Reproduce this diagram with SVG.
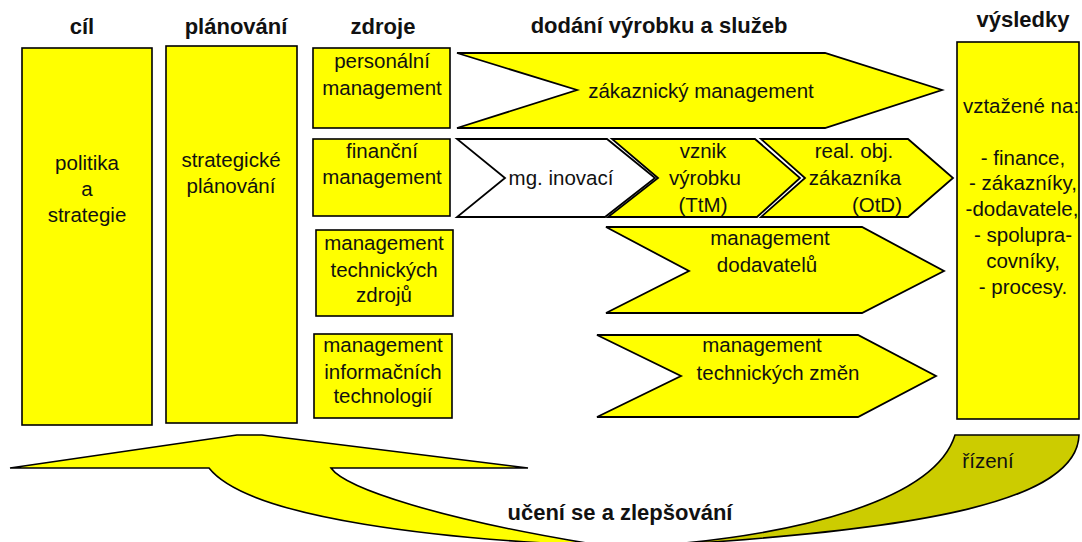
<svg xmlns="http://www.w3.org/2000/svg" width="1082" height="542" viewBox="0 0 1082 542">
<style>
.box{fill:#FFFF00;stroke:#000;stroke-width:1.6}
.chev{fill:#FFFF00;stroke:#000;stroke-width:1.8;stroke-linejoin:miter}
.white{fill:#FFFFFF}
.t{font-family:"Liberation Sans",Arial,sans-serif;font-size:20.5px;fill:#111;text-anchor:middle}
.h{font-family:"Liberation Sans",Arial,sans-serif;font-size:22px;font-weight:bold;fill:#111;text-anchor:middle}
</style>
<rect width="1082" height="542" fill="#FFFFFF"/>

<g id="headers">
<text class="h" x="82" y="34">cíl</text>
<text class="h" x="236" y="34">plánování</text>
<text class="h" x="383" y="34">zdroje</text>
<text class="h" x="659" y="33">dodání výrobku a služeb</text>
<text class="h" x="1023" y="27">výsledky</text>
</g>

<g id="cil">
<rect class="box" x="22" y="48" width="130" height="377"/>
<text class="t" x="87" y="170">politika</text>
<text class="t" x="87" y="196">a</text>
<text class="t" x="87" y="222">strategie</text>
</g>

<g id="planovani">
<rect class="box" x="166" y="46" width="131" height="377"/>
<text class="t" x="231" y="167">strategické</text>
<text class="t" x="231" y="193">plánování</text>
</g>

<g id="personalni">
<rect class="box" x="313" y="48" width="137" height="80"/>
<text class="t" x="382" y="68">personální</text>
<text class="t" x="382" y="95">management</text>
</g>

<g id="financni">
<rect class="box" x="313" y="139" width="137" height="77"/>
<text class="t" x="382" y="158">finanční</text>
<text class="t" x="382" y="184">management</text>
</g>

<g id="technicke-zdroje">
<rect class="box" x="316" y="230" width="137" height="86"/>
<text class="t" x="384" y="250">management</text>
<text class="t" x="384" y="277">technických</text>
<text class="t" x="384" y="302">zdrojů</text>
</g>

<g id="informacni-technologie">
<rect class="box" x="314" y="334" width="138" height="84"/>
<text class="t" x="383" y="352">management</text>
<text class="t" x="383" y="379">informačních</text>
<text class="t" x="383" y="403">technologií</text>
</g>

<g id="zakaznicky">
<polygon class="chev" points="457,53 825,53 942,90 825,128 457,128 577,90"/>
<text class="t" x="701" y="98">zákaznický management</text>
</g>

<g id="inovace">
<polygon class="chev white" points="457,139 607,139 655,178 605,217 457,217 505,178"/>
<text class="t" x="561" y="185">mg. inovací</text>
</g>

<g id="ttm">
<polygon class="chev" points="612,139 755,139 800,178 757,217 608,217 658,178"/>
<text class="t" x="703" y="158">vznik</text>
<text class="t" x="705" y="185">výrobku</text>
<text class="t" x="703" y="212">(TtM)</text>
</g>

<g id="otd">
<polygon class="chev" points="761,139 908,139 953,178 908,217 761,217 805,178"/>
<text class="t" x="854" y="158">real. obj.</text>
<text class="t" x="855" y="185">zákazníka</text>
<text class="t" x="902" y="212" style="text-anchor:end">(OtD)</text>
</g>

<g id="dodavatele">
<polygon class="chev" points="606,227 862,227 944,271 862,313 606,313 689,271"/>
<text class="t" x="770" y="245">management</text>
<text class="t" x="767" y="272">dodavatelů</text>
</g>

<g id="zmeny">
<polygon class="chev" points="597,335 858,335 936,376 858,417 597,417 681,376"/>
<text class="t" x="762" y="352">management</text>
<text class="t" x="778" y="380">technických změn</text>
</g>

<g id="vysledky">
<rect class="box" x="957" y="42" width="122" height="377"/>
<text class="t" x="1021" y="113">vztažené na:</text>
<text class="t" x="1023" y="165">- finance,</text>
<text class="t" x="1023" y="190">- zákazníky,</text>
<text class="t" x="1022" y="216">-dodavatele,</text>
<text class="t" x="1023" y="242">- spolupra-</text>
<text class="t" x="1023" y="268">covníky,</text>
<text class="t" x="1023" y="294">- procesy.</text>
</g>

<g id="connectors">
<g id="rizeni">
<path d="M955,435 L1079,435 C1077,500 930,530 650,546 C800,535 935,500 955,435 Z" fill="#CCCC00" stroke="#000" stroke-width="1.6"/>
<text class="t" x="988" y="468">řízení</text>
</g>
<g id="uceni">
<path d="M10,468 L237,435 L262,435 L528,468 L331,468 C345,488 440,520 605,546 C450,540 250,520 209,468 Z" fill="#FFFF00" stroke="#000" stroke-width="1.6" stroke-linejoin="miter"/>
<text class="h" x="620" y="520">učení se a zlepšování</text>
</g>
</g>
</svg>
